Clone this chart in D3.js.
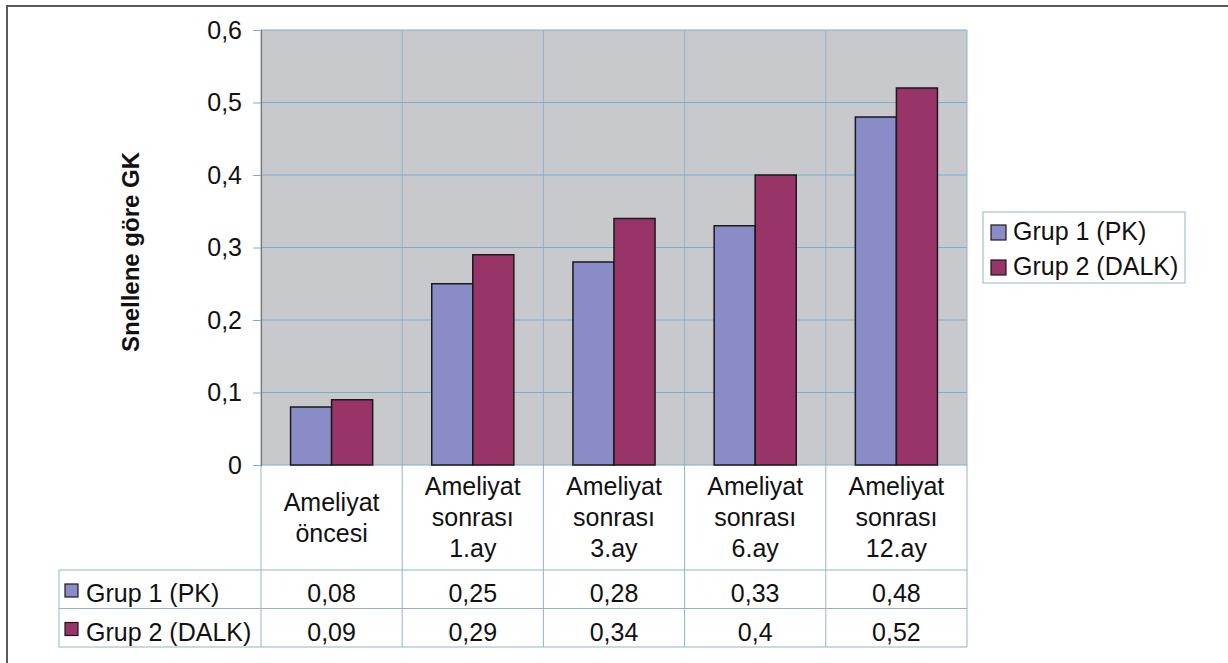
<!DOCTYPE html>
<html>
<head>
<meta charset="utf-8">
<script src="https://cdn.jsdelivr.net/npm/d3@7"></script>
<style>
  html, body { margin: 0; padding: 0; background: #fff; }
  svg { display: block; font-family: "Liberation Sans", Arial, sans-serif; }
</style>
</head>
<body>
<div id="chart"></div>
<script>
// data
const categories = [
  ['Ameliyat', 'öncesi'],
  ['Ameliyat', 'sonrası', '1.ay'],
  ['Ameliyat', 'sonrası', '3.ay'],
  ['Ameliyat', 'sonrası', '6.ay'],
  ['Ameliyat', 'sonrası', '12.ay']
]
const seriesNames = ['Grup 1 (PK)', 'Grup 2 (DALK)']
const grup1 = [0.08, 0.25, 0.28, 0.33, 0.48]
const grup2 = [0.09, 0.29, 0.34, 0.4, 0.52]
const yTicks = [0, 0.1, 0.2, 0.3, 0.4, 0.5, 0.6]
const yTitle = 'Snellene göre GK'

const W = 1228
const H = 663
const PLOT = { left: 261, right: 967, top: 30, bottom: 465 }
const COLORS = ['#8a8cc8', '#993468']
const GRID = '#78aed0'
const FONT = 25
const FAMILY = '"Liberation Sans", Arial, sans-serif'

const values = [grup1, grup2]
const catKeys = categories.map(d => d.join(' '))

const svg = d3.select('#chart').append('svg')
  .attr('width', W)
  .attr('height', H)
  .attr('font-family', FAMILY)

// outer frame (top + left edges visible)
svg.append('path')
  .attr('d', `M7,${H} V6 H${W}`)
  .attr('fill', 'none')
  .attr('stroke', '#5a5a5a')
  .attr('stroke-width', 2)

const x0 = d3.scaleBand()
  .domain(catKeys)
  .range([PLOT.left, PLOT.right])
  .padding(0)

const x1 = d3.scaleBand()
  .domain(seriesNames)
  .range([0, x0.bandwidth()])
  .paddingInner(0)
  .paddingOuter(0.72)

const y = d3.scaleLinear()
  .domain([0, 0.6])
  .range([PLOT.bottom, PLOT.top])

const fmt = d => d === 0 ? '0' : String(d).replace('.', ',')

// plot background
svg.append('rect')
  .attr('x', PLOT.left)
  .attr('y', PLOT.top)
  .attr('width', PLOT.right - PLOT.left)
  .attr('height', PLOT.bottom - PLOT.top)
  .attr('fill', '#c8c9cc')

// vertical category grid lines, running down through the label area
const bounds = catKeys.map(k => x0(k)).concat([PLOT.right])
svg.append('g')
  .selectAll('line')
  .data(bounds)
  .join('line')
  .attr('x1', d => d).attr('x2', d => d)
  .attr('y1', PLOT.top).attr('y2', 570)
  .attr('stroke', '#8fb4cc')
  .attr('stroke-width', 1)

// horizontal grid
svg.append('g')
  .selectAll('line')
  .data(yTicks)
  .join('line')
  .attr('x1', PLOT.left).attr('x2', PLOT.right)
  .attr('y1', d => y(d)).attr('y2', d => y(d))
  .attr('stroke', GRID)
  .attr('stroke-width', 1)

// y axis
const yAxis = svg.append('g')
  .attr('transform', `translate(${PLOT.left},0)`)
  .call(d3.axisLeft(y).tickValues(yTicks).tickFormat(fmt).tickSize(8).tickPadding(11))
yAxis.select('.domain').attr('stroke', '#7a7a7a').attr('stroke-width', 1.2)
yAxis.selectAll('.tick line').attr('stroke', GRID)
yAxis.selectAll('.tick text')
  .attr('font-size', FONT)
  .attr('font-family', FAMILY)
  .attr('fill', '#111')

// y title
svg.append('text')
  .attr('transform', `translate(139,252) rotate(-90)`)
  .attr('text-anchor', 'middle')
  .attr('font-size', 24)
  .attr('font-weight', 'bold')
  .attr('fill', '#111')
  .text(yTitle)

// bars
const groups = svg.append('g')
  .selectAll('g')
  .data(catKeys)
  .join('g')
  .attr('transform', d => `translate(${x0(d)},0)`)

groups.selectAll('rect')
  .data((d, i) => seriesNames.map((s, j) => ({ s, v: values[j][i], j })))
  .join('rect')
  .attr('x', d => x1(d.s))
  .attr('width', x1.bandwidth())
  .attr('y', d => y(d.v))
  .attr('height', d => y(0) - y(d.v))
  .attr('fill', d => COLORS[d.j])
  .attr('stroke', '#1a1a1a')
  .attr('stroke-width', 1.5)

// category labels
const lineGap = 31
svg.append('g')
  .selectAll('text')
  .data(categories)
  .join('text')
  .attr('text-anchor', 'middle')
  .attr('font-size', FONT)
  .attr('fill', '#111')
  .each(function (lines, i) {
    const cx = x0(catKeys[i]) + x0.bandwidth() / 2
    const first = 526 - (lines.length - 1) * lineGap / 2
    d3.select(this).selectAll('tspan')
      .data(lines)
      .join('tspan')
      .attr('x', cx)
      .attr('y', (d, k) => first + k * lineGap)
      .text(d => d)
  })

// data table
const TABLE = { left: 59, top: 570, rowH: 38.5 }
const table = svg.append('g')
const rowYs = [TABLE.top, TABLE.top + TABLE.rowH, TABLE.top + 2 * TABLE.rowH]
table.selectAll('line.h')
  .data(rowYs)
  .join('line')
  .attr('class', 'h')
  .attr('x1', TABLE.left).attr('x2', PLOT.right)
  .attr('y1', d => d).attr('y2', d => d)
  .attr('stroke', '#8fb4cc')
table.selectAll('line.v')
  .data([TABLE.left].concat(bounds))
  .join('line')
  .attr('class', 'v')
  .attr('x1', d => d).attr('x2', d => d)
  .attr('y1', TABLE.top).attr('y2', rowYs[2])
  .attr('stroke', '#8fb4cc')

seriesNames.forEach((name, j) => {
  const top = rowYs[j]
  table.append('rect')
    .attr('x', 65).attr('y', top + 14)
    .attr('width', 13).attr('height', 13)
    .attr('fill', COLORS[j])
    .attr('stroke', '#1a1a1a')
    .attr('stroke-width', 1.2)
  table.append('text')
    .attr('x', 86).attr('y', top + 32)
    .attr('font-size', FONT)
    .attr('fill', '#111')
    .text(name)
  table.selectAll(null)
    .data(values[j])
    .join('text')
    .attr('x', (d, i) => x0(catKeys[i]) + x0.bandwidth() / 2)
    .attr('y', top + 32)
    .attr('text-anchor', 'middle')
    .attr('font-size', FONT)
    .attr('fill', '#111')
    .text(fmt)
})

// legend
const legend = svg.append('g')
legend.append('rect')
  .attr('x', 983).attr('y', 212)
  .attr('width', 202).attr('height', 71)
  .attr('fill', '#fff')
  .attr('stroke', '#8fb4cc')
seriesNames.forEach((name, j) => {
  const base = 240 + j * 35
  legend.append('rect')
    .attr('x', 991).attr('y', base - 15)
    .attr('width', 15).attr('height', 15)
    .attr('fill', COLORS[j])
    .attr('stroke', '#1a1a1a')
    .attr('stroke-width', 1.2)
  legend.append('text')
    .attr('x', 1013).attr('y', base)
    .attr('font-size', FONT)
    .attr('fill', '#111')
    .text(name)
})
</script>
</body>
</html>
